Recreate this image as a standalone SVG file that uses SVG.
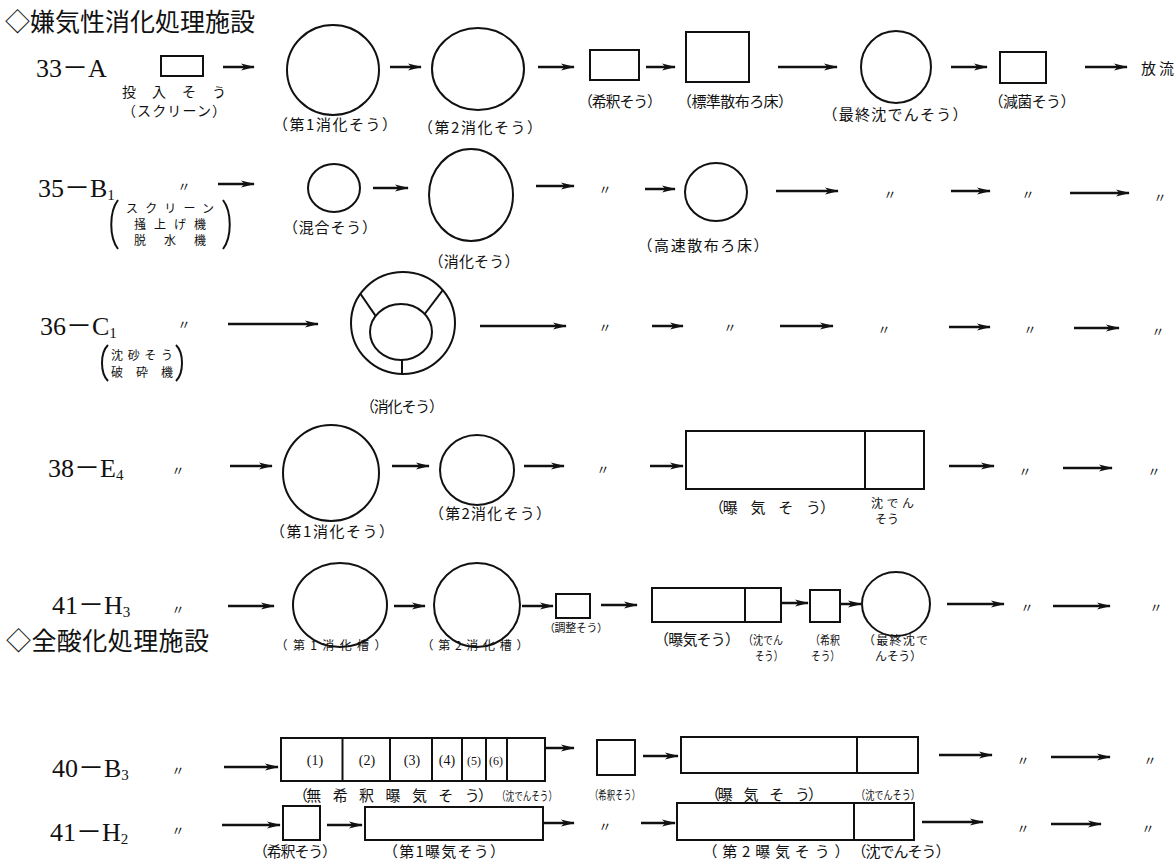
<svg xmlns="http://www.w3.org/2000/svg" width="1176" height="859" viewBox="0 0 1176 859">
<style>
.s{fill:none;stroke:#111;stroke-width:2}
.c line{stroke:#111;stroke-width:2.5;marker-end:url(#ah)}
.j{font-family:"Noto Sans CJK JP",sans-serif;font-size:15px;fill:#111}
.sm{font-size:12px}
.f14{font-size:14px}
.f11{font-size:11px}
.f12{font-size:12px}
.t{font-family:"Noto Sans CJK JP",sans-serif;font-size:25px;fill:#111}
.n{font-family:"Liberation Serif","Noto Sans CJK JP",serif;font-size:26px;fill:#111}
.sub{font-size:15px}
.p{font-family:"Liberation Serif",serif;font-size:14px;fill:#111}
.p12{font-size:12px}
.d{font-family:"Noto Sans CJK JP",sans-serif;font-size:13px;fill:#111;text-anchor:middle}
.m{text-anchor:middle}
</style>
<defs>
<marker id="ah" markerWidth="14" markerHeight="8" refX="13" refY="4" orient="auto" markerUnits="userSpaceOnUse">
<path d="M0,0.5 L14,4 L0,7.5 L3.5,4 z" fill="#111"/>
</marker>
</defs>
<rect width="1176" height="859" fill="#fff"/>

<g id="title1"><text class="t" x="5" y="31" textLength="250">◇嫌気性消化処理施設</text></g>
<g id="title2"><text class="t" x="6" y="650" textLength="203">◇全酸化処理施設</text></g>

<!-- Row 1 -->
<g id="r1-label"><text class="n" x="36" y="77">33－A</text></g>
<g id="r1-toumyu"><rect class="s" x="161" y="56" width="42" height="20"/>
<text class="j f14" x="122" y="97" textLength="104">投入そう</text>
<text class="j f14" x="122" y="116" textLength="104">（スクリーン）</text></g>
<g id="r1-dig1"><ellipse class="s" cx="333" cy="70" rx="46" ry="45"/><text class="j m" x="335" y="130" textLength="124">（第1消化そう）</text></g>
<g id="r1-dig2"><ellipse class="s" cx="478" cy="69" rx="46" ry="41"/><text class="j m" x="480" y="133" textLength="124">（第2消化そう）</text></g>
<g id="r1-kishaku"><rect class="s" x="590" y="50" width="49" height="30"/><text class="j m" x="620" y="107" textLength="84">（希釈そう）</text></g>
<g id="r1-rosho"><rect class="s" x="686" y="32" width="63" height="50"/><text class="j m" x="735" y="107" textLength="116">（標準散布ろ床）</text></g>
<g id="r1-final"><ellipse class="s" cx="896" cy="67" rx="35" ry="36"/><text class="j m" x="895" y="120" textLength="145">（最終沈でんそう）</text></g>
<g id="r1-genkin"><rect class="s" x="1000" y="52" width="46" height="31"/><text class="j m" x="1032" y="107" textLength="87">（減菌そう）</text></g>
<g id="r1-horyu"><text class="j" x="1141" y="74" textLength="33">放流</text></g>

<!-- Row 2 -->
<g id="r2-label"><text class="n" x="38" y="197">35－B<tspan class="sub" dy="3">1</tspan></text></g>
<g id="r2-pre"><text class="d" x="184" y="191">〃</text>
<path class="s" stroke-width="1.3" d="M118,200 C109,212 109,237 118,249"/>
<path class="s" stroke-width="1.3" d="M223,200 C232,212 232,237 223,249"/>
<text class="j sm m" x="170" y="213" textLength="88">スクリーン</text>
<text class="j sm m" x="170" y="229" textLength="72">掻上げ機</text>
<text class="j sm m" x="170" y="245" textLength="72">脱　水　機</text></g>
<g id="r2-mix"><ellipse class="s" cx="334" cy="188" rx="26" ry="24"/><text class="j m" x="330" y="233" textLength="94">（混合そう）</text></g>
<g id="r2-dig"><ellipse class="s" cx="471" cy="195" rx="42" ry="46"/><text class="j m" x="474" y="267" textLength="91">（消化そう）</text></g>
<g id="r2-d1"><text class="d" x="605" y="194">〃</text></g>
<g id="r2-rosho"><ellipse class="s" cx="716" cy="192" rx="31" ry="29"/><text class="j m" x="703" y="251" textLength="131">（高速散布ろ床）</text></g>
<g id="r2-d2"><text class="d" x="890" y="199">〃</text></g>
<g id="r2-d3"><text class="d" x="1028" y="199">〃</text></g>
<g id="r2-d4"><text class="d" x="1160" y="202">〃</text></g>

<!-- Row 3 -->
<g id="r3-label"><text class="n" x="40" y="335">36－C<tspan class="sub" dy="3">1</tspan></text></g>
<g id="r3-pre"><text class="d" x="184" y="329">〃</text>
<path class="s" stroke-width="1.3" d="M108,345 C100,353 100,373 108,381"/>
<path class="s" stroke-width="1.3" d="M176,345 C184,353 184,373 176,381"/>
<text class="j sm m" x="142" y="360" textLength="62">沈砂そう</text>
<text class="j sm m" x="142" y="377" textLength="62">破　砕　機</text></g>
<g id="r3-dig"><ellipse class="s" cx="403" cy="323" rx="52" ry="51"/><ellipse class="s" cx="401" cy="332" rx="31" ry="28"/>
<line class="s" x1="375.6" y1="315.9" x2="360.4" y2="293.7"/>
<line class="s" x1="424.7" y1="314" x2="442.8" y2="290.2"/>
<line class="s" x1="402" y1="360" x2="402" y2="374"/>
<text class="j m" x="402" y="412" textLength="84">（消化そう）</text></g>
<g id="r3-d1"><text class="d" x="605" y="332">〃</text></g>
<g id="r3-d2"><text class="d" x="730" y="332">〃</text></g>
<g id="r3-d3"><text class="d" x="884" y="334">〃</text></g>
<g id="r3-d4"><text class="d" x="1030" y="334">〃</text></g>
<g id="r3-d5"><text class="d" x="1158" y="336">〃</text></g>

<!-- Row 4 -->
<g id="r4-label"><text class="n" x="48" y="477">38－E<tspan class="sub" dy="3">4</tspan></text></g>
<g id="r4-pre"><text class="d" x="178" y="475">〃</text></g>
<g id="r4-dig1"><ellipse class="s" cx="331" cy="473" rx="48" ry="48"/><text class="j m" x="332" y="537" textLength="124">（第1消化そう）</text></g>
<g id="r4-dig2"><ellipse class="s" cx="477" cy="470" rx="37" ry="35"/><text class="j m" x="490" y="519" textLength="122">（第2消化そう）</text></g>
<g id="r4-d1"><text class="d" x="603" y="474">〃</text></g>
<g id="r4-aer"><rect class="s" x="686" y="431" width="238" height="58"/><line class="s" x1="865" y1="431" x2="865" y2="489"/>
<text class="j m" x="772" y="513" textLength="126">（曝　気　そ　う）</text>
<text class="j sm" x="871" y="508" textLength="43">沈でん</text>
<text class="j sm" x="875" y="524" textLength="24">そう</text></g>
<g id="r4-d2"><text class="d" x="1025" y="476">〃</text></g>
<g id="r4-d3"><text class="d" x="1154" y="476">〃</text></g>

<!-- Row 5 -->
<g id="r5-label"><text class="n" x="52" y="614">41－H<tspan class="sub" dy="3">3</tspan></text></g>
<g id="r5-pre"><text class="d" x="178" y="614">〃</text></g>
<g id="r5-dig1"><ellipse class="s" cx="340" cy="605" rx="47" ry="42"/><text class="j sm m" x="331" y="650" textLength="111">（第1消化槽）</text></g>
<g id="r5-dig2"><ellipse class="s" cx="477" cy="605" rx="43" ry="42"/><text class="j sm m" x="475" y="650" textLength="107">（第2消化槽）</text></g>
<g id="r5-chosei"><rect class="s" x="556" y="594" width="34" height="24"/><text class="j f11 m" x="576" y="632" textLength="64">（調整そう）</text></g>
<g id="r5-aer"><rect class="s" x="652" y="588" width="129" height="34"/><line class="s" x1="745" y1="588" x2="745" y2="622"/>
<text class="j m" x="697" y="645" textLength="86">（曝気そう）</text>
<text class="j f12" x="743" y="645" textLength="40" lengthAdjust="spacingAndGlyphs">（沈でん</text>
<text class="j f12" x="755" y="661" textLength="28" lengthAdjust="spacingAndGlyphs">そう）</text></g>
<g id="r5-kishaku"><rect class="s" x="810" y="590" width="30" height="32"/>
<text class="j f12" x="810" y="645" textLength="30" lengthAdjust="spacingAndGlyphs">（希釈</text>
<text class="j f12" x="811" y="661" textLength="29" lengthAdjust="spacingAndGlyphs">そう）</text></g>
<g id="r5-final"><ellipse class="s" cx="896" cy="604" rx="34" ry="32"/>
<text class="j f12" x="863" y="645" textLength="65">（最終沈で</text>
<text class="j f12" x="875" y="661" textLength="47">んそう）</text></g>
<g id="r5-d1"><text class="d" x="1027" y="612">〃</text></g>
<g id="r5-d2"><text class="d" x="1156" y="612">〃</text></g>

<!-- Row 6 -->
<g id="r6-label"><text class="n" x="52" y="777">40－B<tspan class="sub" dy="3">3</tspan></text></g>
<g id="r6-pre"><text class="d" x="178" y="775">〃</text></g>
<g id="r6-aer"><rect class="s" x="281" y="738" width="264" height="43"/>
<line class="s" x1="342.5" y1="738" x2="342.5" y2="781"/>
<line class="s" x1="390" y1="738" x2="390" y2="781"/>
<line class="s" x1="432" y1="738" x2="432" y2="781"/>
<line class="s" x1="462" y1="738" x2="462" y2="781"/>
<line class="s" x1="486" y1="738" x2="486" y2="781"/>
<line class="s" x1="507" y1="738" x2="507" y2="781"/>
<text class="p m" x="315" y="765">(1)</text>
<text class="p m" x="367" y="765">(2)</text>
<text class="p m" x="412" y="765">(3)</text>
<text class="p m" x="447" y="765">(4)</text>
<text class="p p12 m" x="474" y="765">(5)</text>
<text class="p p12 m" x="496" y="765">(6)</text>
<text class="j m" x="393" y="801" textLength="200">（無　希　釈　曝　気　そ　う）</text>
<text class="j f12 m" x="527" y="801" textLength="60" lengthAdjust="spacingAndGlyphs">（沈でんそう）</text></g>
<g id="r6-kishaku"><rect class="s" x="597" y="740" width="38" height="35"/><text class="j f12 m" x="615" y="800" textLength="50" lengthAdjust="spacingAndGlyphs">（希釈そう）</text></g>
<g id="r6-aer2"><rect class="s" x="681" y="737" width="237" height="36"/><line class="s" x1="857" y1="737" x2="857" y2="773"/>
<text class="j m" x="764" y="800" textLength="118">（曝　気　そ　う）</text>
<text class="j f12 m" x="888" y="800" textLength="64" lengthAdjust="spacingAndGlyphs">（沈でんそう）</text></g>
<g id="r6-d1"><text class="d" x="1023" y="765">〃</text></g>
<g id="r6-d2"><text class="d" x="1150" y="765">〃</text></g>

<!-- Row 7 -->
<g id="r7-label"><text class="n" x="50" y="841">41－H<tspan class="sub" dy="3">2</tspan></text></g>
<g id="r7-pre"><text class="d" x="178" y="835">〃</text></g>
<g id="r7-kishaku"><rect class="s" x="283" y="806" width="37" height="34"/><text class="j m" x="295" y="857" textLength="84">（希釈そう）</text></g>
<g id="r7-aer1"><rect class="s" x="365" y="807" width="178" height="33"/><text class="j m" x="444" y="857" textLength="122">（第1曝気そう）</text></g>
<g id="r7-d0"><text class="d" x="605" y="831">〃</text></g>
<g id="r7-aer2"><rect class="s" x="677" y="803" width="237" height="37"/><line class="s" x1="854" y1="803" x2="854" y2="840"/>
<text class="j m" x="776" y="857" textLength="147">（第2曝気そう）</text>
<text class="j m" x="901" y="857" textLength="99">（沈でんそう）</text></g>
<g id="r7-d1"><text class="d" x="1023" y="833">〃</text></g>
<g id="r7-d2"><text class="d" x="1148" y="833">〃</text></g>

<g id="connectors" class="c">
<line x1="223" y1="67" x2="254" y2="67"/>
<line x1="390" y1="67" x2="421" y2="67"/>
<line x1="538" y1="67" x2="574" y2="67"/>
<line x1="646" y1="67" x2="675" y2="67"/>
<line x1="778" y1="67" x2="837" y2="67"/>
<line x1="951" y1="67" x2="987" y2="67"/>
<line x1="1085" y1="67" x2="1127" y2="67"/>

<line x1="218" y1="184" x2="254" y2="184"/>
<line x1="373" y1="188" x2="408" y2="188"/>
<line x1="536" y1="186" x2="574" y2="186"/>
<line x1="645" y1="189" x2="675" y2="189"/>
<line x1="776" y1="191" x2="838" y2="191"/>
<line x1="951" y1="191" x2="990" y2="191"/>
<line x1="1070" y1="193" x2="1129" y2="193"/>

<line x1="228" y1="324" x2="318" y2="324"/>
<line x1="480" y1="326" x2="566" y2="326"/>
<line x1="652" y1="326" x2="683" y2="326"/>
<line x1="780" y1="326" x2="833" y2="326"/>
<line x1="949" y1="327" x2="990" y2="327"/>
<line x1="1074" y1="328" x2="1119" y2="328"/>

<line x1="230" y1="466" x2="272" y2="466"/>
<line x1="392" y1="466" x2="429" y2="466"/>
<line x1="524" y1="466" x2="564" y2="466"/>
<line x1="650" y1="466" x2="683" y2="466"/>
<line x1="949" y1="466" x2="994" y2="466"/>
<line x1="1063" y1="468" x2="1112" y2="468"/>

<line x1="228" y1="606" x2="274" y2="606"/>
<line x1="394" y1="606" x2="425" y2="606"/>
<line x1="522" y1="606" x2="553" y2="606"/>
<line x1="601" y1="605" x2="637" y2="605"/>
<line x1="781" y1="603" x2="808" y2="603"/>
<line x1="840" y1="604" x2="861" y2="604"/>
<line x1="947" y1="604" x2="1004" y2="604"/>
<line x1="1053" y1="606" x2="1110" y2="606"/>

<line x1="224" y1="767" x2="278" y2="767"/>
<line x1="545" y1="748" x2="574" y2="748"/>
<line x1="643" y1="756" x2="678" y2="756"/>
<line x1="939" y1="755" x2="992" y2="755"/>
<line x1="1051" y1="757" x2="1110" y2="757"/>

<line x1="222" y1="825" x2="280" y2="825"/>
<line x1="327" y1="825" x2="362" y2="825"/>
<line x1="543" y1="823" x2="574" y2="823"/>
<line x1="641" y1="823" x2="675" y2="823"/>
<line x1="922" y1="822" x2="983" y2="822"/>
<line x1="1051" y1="824" x2="1101" y2="824"/>
</g>
</svg>
